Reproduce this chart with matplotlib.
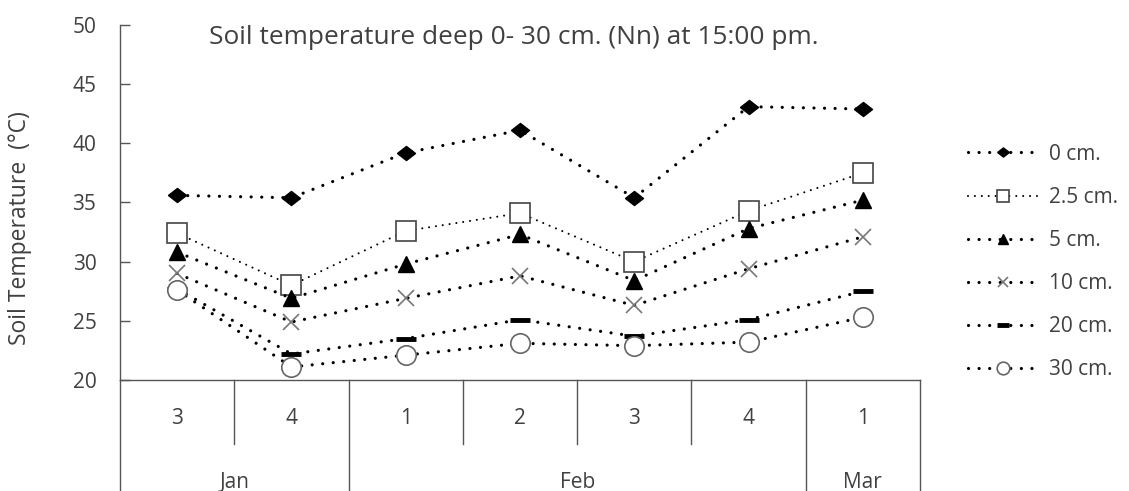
import matplotlib.pyplot as plt

plt.rcParams['font.family'] = ['Open Sans', 'DejaVu Sans']

weeks = ['3', '4', '1', '2', '3', '4', '1']
months = ['Jan', 'Feb', 'Mar']
month_span = [(0, 1), (2, 5), (6, 6)]

t_0 = [35.6, 35.4, 39.2, 41.1, 35.4, 43.1, 42.9]
t_2_5 = [32.4, 28.0, 32.6, 34.1, 30.0, 34.3, 37.5]
t_5 = [30.8, 26.9, 29.8, 32.3, 28.4, 32.8, 35.2]
t_10 = [29.0, 24.9, 26.9, 28.8, 26.3, 29.4, 32.1]
t_20 = [27.7, 22.2, 23.5, 25.1, 23.7, 25.1, 27.5]
t_30 = [27.6, 21.1, 22.1, 23.1, 22.9, 23.2, 25.3]

txt = '#404040'
fig = plt.figure(figsize=(11.29, 4.91), dpi=100)
ax = fig.add_axes([120/1129, 1-380/491, 800/1129, 355/491])

x = range(len(weeks))
dots = (0, (0.01, 3.3))

# slightly wide diamond, like the original
wide_diamond = [(-1, 0), (0, 0.78), (1, 0), (0, -0.78), (-1, 0)]

series = [
    (t_0, '0 cm.', dict(marker=wide_diamond, markersize=13, mfc='black', mec='black', lw=2.3, ls=dots)),
    (t_2_5, '2.5 cm.', dict(marker='s', markersize=14, mfc='white', mec='#444444', mew=1.2, lw=1.5, ls=dots)),
    (t_5, '5 cm.', dict(marker='^', markersize=12, mfc='black', mec='black', lw=2.3, ls=dots)),
    (t_10, '10 cm.', dict(marker='x', markersize=12, mec='#777777', mew=1.2, lw=2.3, ls=dots)),
    (t_20, '20 cm.', dict(marker='_', markersize=14, mec='black', mew=3.5, lw=2.3, ls=dots)),
    (t_30, '30 cm.', dict(marker='o', markersize=14, mfc='white', mec='#666666', mew=1.2, lw=2.3, ls=dots)),
]

for vals, lab, kw in series:
    ax.plot(x, vals, color='black', dash_capstyle='round', label=lab, clip_on=False, **kw)

ax.set_xlim(-0.5, 6.5)
ax.set_ylim(20, 50)
ax.set_yticks([20, 25, 30, 35, 40, 45, 50])
ax.set_xticks([])
ax.tick_params(axis='y', direction='in', length=7, width=1, color='#555555',
               labelsize=15, labelcolor=txt, pad=17)
for s in ['top', 'right']:
    ax.spines[s].set_visible(False)
for s in ['left', 'bottom']:
    ax.spines[s].set_color('#555555')
    ax.spines[s].set_linewidth(1)

fig.text(20/1129, 1-228/491, 'Soil Temperature  (°C)', rotation=90, ha='center', va='center',
         fontsize=16.5, color=txt)

# category box below the axis
tr = ax.get_xaxis_transform()
bottom = -111/355
for i in range(len(weeks)):
    ax.text(i, -38/355, weeks[i], transform=tr, ha='center', va='center',
            fontsize=15, color=txt)
month_edges = [-0.5] + [b + 0.5 for a, b in month_span]
for i in range(len(weeks) + 1):
    xe = i - 0.5
    y0 = bottom if xe in month_edges else -64/355
    ax.plot([xe, xe], [0, y0], transform=tr, color='#555555', lw=1, clip_on=False)
for (a, b), m in zip(month_span, months):
    ax.text((a + b) / 2, -108/355, m, transform=tr, ha='center', va='baseline',
            fontsize=15, color=txt)

ax.text(0.4925, 0.966, 'Soil temperature deep 0- 30 cm. (Nn) at 15:00 pm.',
        transform=ax.transAxes, ha='center', va='center', fontsize=18.9, color=txt)

leg = fig.legend(loc='upper left', bbox_to_anchor=(949/1129, 1-125/491), frameon=False,
                 fontsize=15, labelspacing=1.06, handlelength=3.4, markerscale=0.65,
                 handletextpad=0.5)
for t in leg.get_texts():
    t.set_color(txt)

fig.savefig('out.png', dpi=100)
